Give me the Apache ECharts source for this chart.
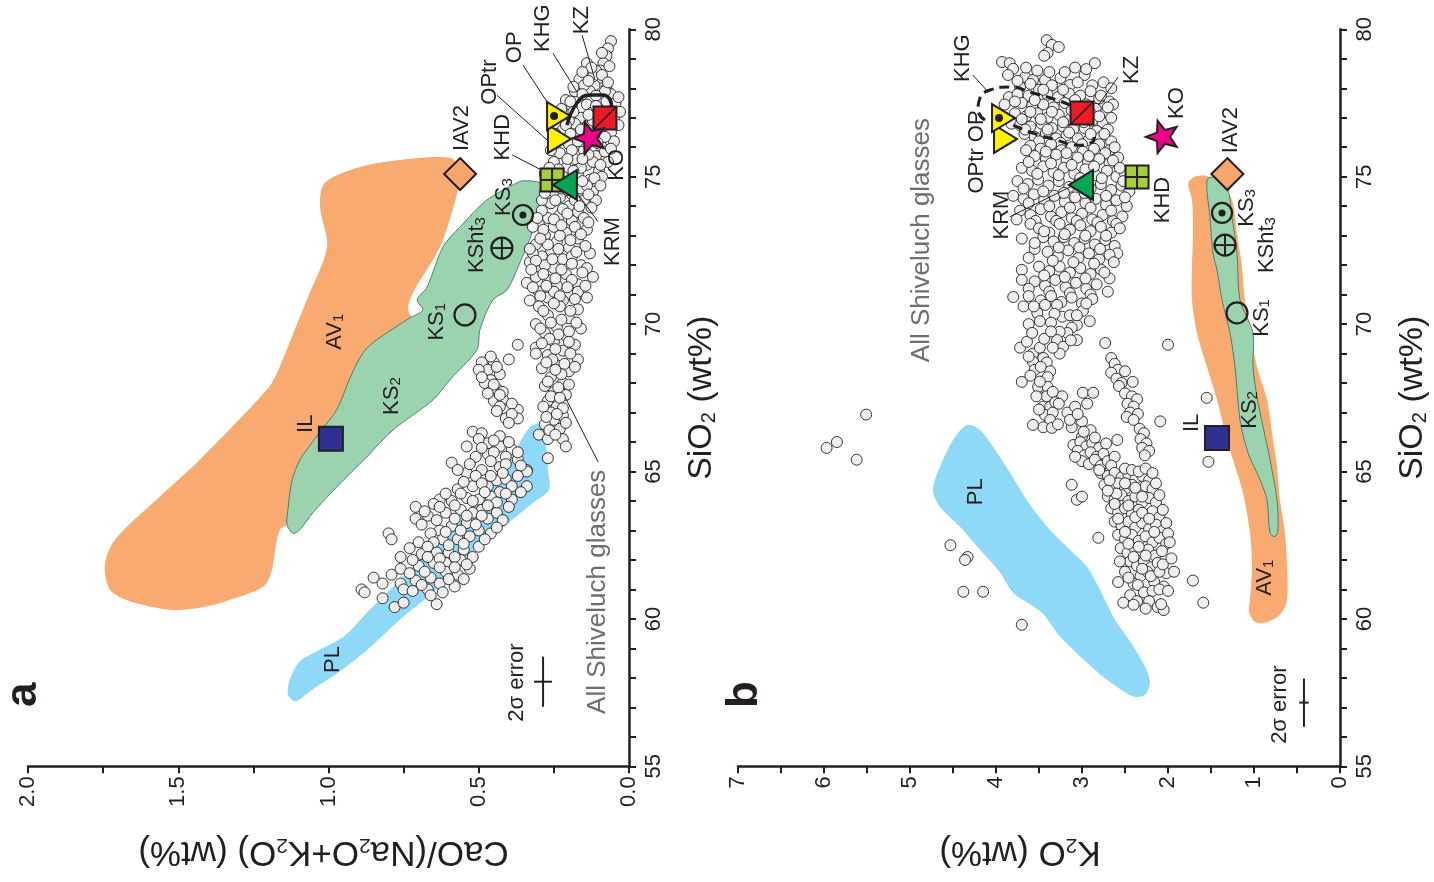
<!DOCTYPE html>
<html><head><meta charset="utf-8">
<script src="https://cdn.jsdelivr.net/npm/echarts@6/dist/echarts.min.js"></script>
<style>html,body{margin:0;padding:0;background:#fff}#c{width:1434px;height:882px}</style>
</head><body><div id="c"></div>
<script>
// ---------------- DATA ----------------
const ratioTickLabels = ['0.0','0.5','1.0','1.5','2.0'];
const k2oTickLabels = ['0','1','2','3','4','5','6','7'];
const silicaTickLabels = ['55','60','65','70','75','80'];

// Panel a fields [CaO/(Na2O+K2O), SiO2]
const av1A = [[0.596,75.64],[0.562,75.20],[0.575,74.31],[0.629,72.62],[0.719,71.06],[0.735,70.48],[0.70,69.8],[0.75,68.5],[0.85,67.0],[0.92,66.0],[1.0,65.0],[1.07,64.0],[1.11,63.3],[1.161,63.03],[1.205,61.23],[1.328,60.65],[1.428,60.38],[1.527,60.31],[1.661,60.6],[1.727,60.99],[1.744,61.84],[1.710,62.69],[1.561,64.15],[1.428,65.40],[1.205,67.77],[1.171,68.35],[1.095,70.25],[1.072,70.82],[1.005,72.62],[1.028,73.98],[1.012,74.79],[0.895,75.33],[0.762,75.57]];
const ks2A = [[0.373,74.79],[0.353,74.86],[0.296,74.79],[0.280,74.48],[0.306,73.77],[0.323,73.09],[0.363,72.08],[0.406,71.16],[0.453,70.82],[0.496,69.81],[0.506,69.13],[0.596,68.11],[0.652,67.43],[0.785,66.41],[0.872,65.50],[0.972,64.48],[1.052,63.60],[1.095,63.03],[1.118,62.90],[1.138,63.20],[1.135,63.71],[1.121,64.72],[1.095,65.40],[1.072,65.74],[1.028,66.35],[0.972,67.10],[0.928,68.18],[0.885,69.03],[0.839,69.47],[0.729,70.21],[0.686,70.48],[0.705,70.82],[0.672,71.26],[0.619,72.62],[0.562,73.30],[0.473,74.21]];
const plA = [[0.329,66.51],[0.286,66.59],[0.276,65.91],[0.270,65.06],[0.266,64.38],[0.319,63.94],[0.429,63.03],[0.562,61.91],[0.629,61.10],[0.762,59.98],[0.862,59.03],[0.962,58.22],[1.062,57.54],[1.111,57.20],[1.135,57.44],[1.128,57.95],[1.095,58.56],[1.028,58.96],[0.945,59.44],[0.862,60.32],[0.762,61.33],[0.629,62.69],[0.496,64.05],[0.396,65.40]];

// Panel b fields [K2O, SiO2]
const av1B = [[1.744,74.89],[1.663,75.02],[1.547,75.02],[1.395,74.82],[1.256,74.21],[1.198,73.09],[1.140,71.94],[1.105,70.82],[0.965,68.55],[0.849,67.43],[0.779,66.07],[0.733,65.16],[0.698,64.04],[0.640,62.92],[0.616,61.77],[0.616,60.65],[0.698,60.14],[0.872,59.87],[0.988,59.90],[1.058,60.24],[1.047,60.65],[1.023,61.77],[1.047,62.92],[1.128,64.28],[1.244,65.40],[1.314,66.07],[1.430,67.43],[1.547,68.55],[1.663,69.70],[1.721,70.82],[1.721,71.94],[1.709,73.09],[1.721,74.21],[1.767,74.72]];
const ks2B = [[1.547,74.89],[1.453,74.99],[1.314,74.65],[1.256,73.63],[1.198,72.41],[1.163,70.82],[1.012,69.70],[1.012,68.55],[0.965,67.53],[0.895,66.52],[0.814,65.40],[0.733,64.04],[0.721,63.02],[0.756,62.79],[0.814,62.92],[0.849,64.04],[0.930,64.72],[1.070,65.63],[1.163,66.75],[1.221,68.55],[1.279,69.70],[1.372,70.82],[1.430,71.84],[1.477,72.41],[1.512,73.63]];
const plB = [[4.186,66.41],[4.035,65.84],[3.837,64.96],[3.605,63.87],[3.372,63.02],[3.105,62.24],[2.942,61.77],[2.791,60.99],[2.616,59.97],[2.430,59.19],[2.267,58.38],[2.209,57.84],[2.267,57.43],[2.384,57.36],[2.547,57.60],[2.814,58.18],[3.256,59.40],[3.465,60.21],[3.802,60.89],[3.953,61.57],[4.186,62.35],[4.419,63.13],[4.651,63.80],[4.733,64.31],[4.709,64.72],[4.616,65.40],[4.500,66.07],[4.337,66.58]];

// All Shiveluch glasses, panel a [ratio, SiO2]
const glassA = [
[0.06,79.6],[0.07,79.35],[0.075,79.1],[0.085,78.85],[0.095,78.6],[0.14,78.85],[0.10,78.35],[0.115,78.1],[0.075,78.0],[0.165,78.3],[0.13,77.9],[0.17,77.7],[0.10,77.6],[0.06,77.8],[0.045,77.5],[0.14,77.45],[0.19,77.35],[0.12,77.2],[0.16,77.0],[0.205,77.1],[0.08,77.3],[0.05,77.0],[0.18,76.8],[0.14,76.7],[0.10,76.6],[0.22,76.6],[0.06,76.5],[0.17,76.4],[0.12,76.2],[0.09,76.0],[0.20,76.1],[0.15,75.9],[0.23,75.8],[0.11,75.7],[0.18,75.6],[0.07,75.5],[0.14,75.4],[0.21,75.3],[0.25,75.5],[0.10,75.2],[0.17,75.1],[0.13,74.9],[0.20,74.8],[0.24,74.95],[0.16,74.6],[0.27,74.7],[0.12,74.5],[0.19,74.4],[0.23,74.3],[0.15,74.2],[0.26,74.1],[0.20,74.0],[0.29,74.2],[0.17,73.8],[0.23,73.7],[0.27,73.6],[0.19,73.5],[0.25,73.3],[0.30,73.4],[0.21,73.1],[0.28,73.0],[0.14,73.2],[0.24,72.8],[0.31,72.7],[0.17,72.9],[0.20,72.6],[0.26,72.5],[0.29,72.3],[0.13,72.4],[0.22,72.2],[0.33,72.1],[0.16,72.0],[0.25,71.9],[0.30,71.8],[0.21,71.7],[0.12,71.6],[0.27,71.5],[0.34,71.4],[0.17,71.35],[0.24,71.3],[0.30,71.1],[0.20,71.0],[0.14,70.9],[0.27,70.9],[0.33,70.8],
[0.09,79.2],[0.11,78.6],[0.12,78.4],[0.08,77.9],[0.15,78.1],[0.18,77.9],[0.21,77.6],[0.03,77.2],[0.07,76.8],[0.12,76.9],[0.20,76.9],[0.15,76.2],[0.24,76.2],[0.05,76.2],[0.08,75.85],[0.19,75.9],[0.26,75.9],[0.12,75.5],[0.16,75.3],[0.22,75.0],[0.09,75.0],[0.28,75.1],[0.14,74.7],[0.25,74.5],[0.18,74.2],[0.11,74.2],[0.22,73.9],[0.29,73.85],[0.15,73.6],[0.32,73.3],[0.18,73.3],[0.23,73.0],[0.27,72.7],[0.19,72.3],[0.32,72.4],[0.28,72.0],[0.14,71.9],[0.19,71.5],[0.31,71.6],[0.25,71.1],[0.17,71.1],[0.22,70.8],
[0.065,78.75],[0.125,78.7],[0.155,78.55],[0.09,78.45],[0.135,78.25],[0.07,78.2],[0.185,78.05],[0.11,77.75],[0.155,77.8],[0.035,77.7],[0.075,77.55],[0.195,77.55],[0.225,77.3],[0.11,77.4],[0.06,77.15],[0.135,77.1],[0.185,77.2],[0.095,76.9],[0.035,76.75],[0.16,76.6],[0.21,76.75],[0.08,76.35],[0.135,76.45],[0.195,76.45],[0.245,76.45],[0.105,76.15],[0.17,76.2],[0.06,75.95],[0.135,75.75],[0.205,75.6],[0.095,75.4],[0.155,75.6],[0.235,75.25],[0.185,75.2],[0.265,75.3],[0.115,74.95],[0.155,74.85],[0.225,74.6],[0.095,74.7],[0.205,74.55],[0.135,74.4],[0.28,74.45],[0.245,74.2],[0.165,74.0],[0.125,73.95],[0.205,73.75],[0.305,73.6],[0.25,73.55],[0.135,73.45],[0.225,73.35],[0.285,73.2],[0.16,73.05],[0.195,72.85],[0.295,72.9],[0.145,72.65],[0.235,72.55],[0.33,72.55],[0.175,72.45],[0.255,72.2],[0.31,72.15],[0.19,72.05],[0.225,71.85],[0.325,71.85],[0.155,71.75],[0.285,71.7],[0.245,71.55],[0.205,71.25],[0.145,71.3],[0.32,71.25],[0.275,71.3],[0.23,70.95],[0.18,70.85],[0.295,70.95],
[0.30,70.6],[0.23,70.6],[0.17,70.5],[0.27,70.3],[0.20,70.2],[0.31,70.0],[0.24,69.9],[0.16,69.85],[0.28,69.7],[0.21,69.6],[0.25,69.4],[0.18,69.3],[0.31,69.2],[0.22,69.1],[0.27,68.95],[0.17,68.8],[0.24,68.6],[0.29,68.5],[0.20,68.4],[0.26,68.2],[0.22,68.0],[0.28,67.9],[0.25,67.7],[0.21,67.6],[0.27,67.4],[0.24,67.2],[0.26,67.0],[0.22,66.9],[0.25,66.75],[0.28,66.6],[0.23,66.45],[0.30,66.25],[0.27,66.1],[0.22,66.1],[0.21,65.85],[0.27,65.45],[0.34,65.05],
[0.25,70.7],[0.195,70.45],[0.285,70.45],[0.225,70.15],[0.175,70.05],[0.26,70.05],[0.2,69.75],[0.295,69.85],[0.235,69.65],[0.265,69.5],[0.2,69.4],[0.245,69.15],[0.29,69.35],[0.195,69.0],[0.255,68.8],[0.215,68.65],[0.275,68.7],[0.225,68.3],[0.18,68.55],[0.245,68.45],[0.27,68.05],[0.235,67.85],[0.2,67.95],[0.26,67.55],[0.23,67.5],[0.285,67.2],[0.22,67.15],[0.24,66.95],[0.275,66.85],[0.21,66.65],[0.265,66.4],[0.245,66.25],
[0.37,69.3],[0.40,68.8],[0.49,68.7],[0.45,68.7],[0.47,68.45],[0.43,68.3],[0.46,68.1],[0.44,67.8],[0.45,67.4],[0.42,67.45],[0.41,67.1],[0.43,67.2],[0.37,67.1],[0.37,66.8],[0.41,66.8],[0.48,68.0],[0.42,67.7],[0.31,69.0],
[0.46,68.9],[0.5,68.45],[0.44,68.55],[0.49,68.2],[0.45,67.95],[0.47,67.65],[0.43,67.6],[0.39,67.3],[0.44,67.05],[0.39,66.95],[0.4,66.65],
[0.52,66.35],[0.49,66.3],[0.47,65.96],[0.43,66.2],[0.43,65.85],[0.39,65.75],[0.41,65.5],[0.47,65.6],[0.51,65.5],[0.59,65.3],[0.37,65.4],[0.34,65.0],[0.43,65.15],[0.49,65.05],[0.54,64.95],[0.44,64.7],[0.41,64.75],[0.39,64.5],[0.47,64.5],[0.52,64.5],[0.57,64.4],[0.43,64.3],[0.46,64.15],[0.39,64.05],[0.34,64.5],[0.50,64.05],[0.54,64.1],[0.59,64.0],[0.63,64.05],[0.65,63.9],[0.71,63.8],[0.49,63.7],[0.44,63.6],[0.52,63.6],[0.56,63.7],[0.61,63.6],[0.67,63.5],[0.71,63.4],[0.47,63.4],[0.54,63.25],[0.59,63.15],[0.63,63.0],[0.66,62.9],[0.50,63.0],[0.46,62.9],[0.53,62.8],[0.57,62.7],[0.62,62.7],[0.65,62.6],[0.70,62.6],[0.50,62.45],[0.55,62.35],[0.60,62.25],[0.64,62.25],[0.69,62.2],[0.52,62.1],[0.56,62.0],[0.61,61.9],[0.65,61.9],[0.70,61.8],[0.76,62.1],[0.76,61.7],[0.80,62.9],[0.79,62.7],[0.82,61.2],[0.89,61.0],[0.71,61.3],[0.66,61.4],[0.63,61.2],[0.67,61.0],[0.61,61.6],[0.76,61.2],[0.75,61.0],[0.88,60.9],[0.82,60.7],[0.78,60.4],[0.75,60.55],[0.64,60.5],[0.66,60.8],[0.57,61.5],[0.53,61.7],[0.58,61.1],
[0.5,66.1],[0.45,66.05],[0.4,66.0],[0.54,65.85],[0.49,65.8],[0.45,65.65],[0.37,65.65],[0.53,65.25],[0.46,65.35],[0.41,65.25],[0.36,65.2],[0.57,65.05],[0.51,64.85],[0.46,64.85],[0.42,64.95],[0.37,64.85],[0.55,64.65],[0.49,64.6],[0.36,64.3],[0.41,64.25],[0.48,64.3],[0.56,64.25],[0.61,64.25],[0.52,64.0],[0.44,63.95],[0.4,63.8],[0.47,63.85],[0.58,63.85],[0.63,63.8],[0.68,63.65],[0.54,63.5],[0.49,63.5],[0.42,63.35],[0.58,63.4],[0.64,63.35],[0.69,63.2],[0.51,63.2],[0.56,63.0],[0.61,62.95],[0.44,63.1],[0.48,62.7],[0.55,62.55],[0.6,62.5],[0.67,62.45],[0.73,62.4],[0.58,62.1],[0.63,62.05],[0.67,62.1],[0.72,62.0],[0.54,61.85],[0.58,61.75],[0.63,61.75],[0.68,61.6],[0.73,61.55],[0.55,61.35],[0.6,61.35],[0.69,61.15],[0.72,60.95],[0.79,61.5],[0.85,61.4],[0.62,60.9]
];

// All Shiveluch glasses, panel b [K2O, SiO2]
const glassB = [
[3.41,79.63],[3.35,79.47],[3.27,79.40],[3.40,79.20],[3.44,79.10],
[3.93,78.89],[3.84,78.85],[3.80,78.66],[3.86,78.45],[3.66,78.38],[3.57,78.28],[3.43,78.28],[3.08,78.70],[2.85,78.85],[2.97,78.45],[3.14,78.11],[3.31,77.87],[3.72,78.05],[3.50,77.95],[3.25,78.35],[2.75,78.20],[2.66,78.00],
[3.65,78.7],[3.52,78.6],[3.38,78.55],[3.2,78.55],[2.95,78.65],[3.75,78.25],[3.35,78.1],[3.05,78.2],[2.88,78.1],[3.6,78.15],
[3.85,77.70],[3.75,77.80],[3.62,77.75],[3.50,77.65],[3.40,77.78],[3.28,77.70],[3.15,77.82],[3.02,77.75],[2.90,77.90],[2.80,77.65],[2.68,77.55],
[3.70,77.50],[3.58,77.40],[3.45,77.45],[3.33,77.35],[3.20,77.50],[3.08,77.40],[2.95,77.45],[2.84,77.30],[2.72,77.20],[2.64,77.45],
[3.78,77.15],[3.65,77.05],[3.52,77.15],[3.40,77.00],[3.27,77.10],[3.14,76.95],[3.00,77.05],[2.88,76.90],[2.76,76.85],[2.66,77.00],
[3.82,76.80],[3.72,76.75],[3.60,76.70],[3.47,76.80],[3.35,76.65],[3.22,76.70],[3.10,76.60],[2.97,76.65],[2.83,76.55],[2.70,76.60],
[3.67,76.45],[3.55,76.35],[3.42,76.48],[3.30,76.30],[3.18,76.40],[3.05,76.30],[2.92,76.25],[2.78,76.35],[2.66,76.20],
[3.9,77.45],[3.78,77.55],[3.55,77.6],[3.45,77.95],[3.22,77.95],[3.08,77.6],[2.97,77.2],[2.78,77.75],[2.7,77.35],[3.6,77.2],[3.35,77.2],[3.12,77.25],[2.9,77.15],[3.48,76.95],[3.22,76.85],[2.98,76.85],[2.8,77.05],[3.7,76.95],[3.66,76.6],[3.4,76.6],[3.15,76.5],[2.9,76.45],[2.74,76.45],[3.5,76.2],[3.25,76.15],[3.0,76.1],[2.8,76.1],[2.68,75.9],
[3.60,76.05],[3.48,75.95],[3.36,76.10],[3.24,75.90],[3.12,76.00],[2.99,75.85],[2.86,75.95],[2.73,75.80],[2.62,76.00],
[3.55,75.70],[3.42,75.60],[3.30,75.75],[3.18,75.55],[3.05,75.65],[2.93,75.50],[2.80,75.60],[2.68,75.45],[2.58,75.65],
[3.70,75.30],[3.58,75.20],[3.45,75.35],[3.33,75.15],[3.21,75.30],[3.09,75.10],[2.96,75.25],[2.84,75.05],[2.71,75.20],[2.60,75.00],[2.50,75.10],
[3.75,74.85],[3.63,74.75],[3.51,74.90],[3.39,74.70],[3.27,74.85],[3.15,74.65],[3.03,74.80],[2.90,74.60],[2.78,74.75],[2.66,74.55],[2.54,74.70],[2.45,74.50],
[3.80,74.35],[3.68,74.25],[3.56,74.40],[3.44,74.20],[3.32,74.35],[3.20,74.15],[3.08,74.30],[2.96,74.10],[2.84,74.25],[2.72,74.05],[2.60,74.20],[2.48,74.00],
[3.72,73.85],[3.60,73.70],[3.48,73.90],[3.36,73.65],[3.24,73.80],[3.12,73.60],[3.00,73.75],[2.88,73.55],[2.76,73.70],[2.64,73.50],[2.53,73.65],
[3.65,75.9],[3.42,75.85],[3.18,75.8],[2.92,75.7],[2.64,75.55],[3.62,75.5],[3.36,75.45],[3.12,75.4],[2.86,75.35],[2.56,75.3],[3.52,75.1],[3.27,75.05],[3.02,74.95],[2.77,74.95],[2.52,74.85],[3.68,74.6],[3.45,74.5],[3.21,74.45],[2.97,74.45],[2.72,74.35],[2.5,74.3],[3.62,74.1],[3.38,74.0],[3.14,73.95],[2.9,73.95],[2.66,73.85],[3.76,73.55],[3.54,73.5],[3.3,73.5],[3.06,73.5],[2.82,73.45],[2.6,73.4],
[3.60,73.40],[3.50,73.25],[3.38,73.10],[3.26,73.40],[3.14,73.20],[3.02,73.35],[2.90,73.15],[2.78,73.30],[2.66,73.10],[2.56,73.25],
[3.70,72.90],[3.45,72.95],[3.33,72.80],[3.21,72.95],[3.09,72.75],[2.97,72.90],[2.85,72.70],[2.73,72.85],[2.62,72.65],[2.59,72.40],
[3.55,72.55],[3.40,72.45],[3.28,72.30],[3.16,72.50],[3.04,72.25],[2.92,72.40],[2.80,72.20],[2.68,72.35],
[3.70,71.84],[3.50,71.95],[3.38,71.80],[3.26,71.95],[3.14,71.75],[3.02,71.90],[2.90,71.70],[2.78,71.85],[2.68,71.55],
[3.55,71.45],[3.43,71.30],[3.31,71.50],[3.19,71.25],[3.07,71.40],[2.95,71.20],[2.83,71.35],[2.70,71.10],
[3.44,73.15],[3.2,73.05],[2.96,73.0],[2.72,73.0],[3.55,72.75],[3.27,72.6],[3.03,72.6],[2.79,72.55],[3.62,72.25],[3.34,72.15],[3.1,72.1],[2.86,72.05],[2.63,72.1],[3.44,71.65],[3.2,71.6],[2.96,71.55],[2.74,71.75],[3.62,71.2],[3.38,71.1],[3.14,71.05],[2.9,71.0],[3.7,71.5],
[3.80,70.92],[3.62,70.95],[3.48,70.80],[3.36,70.95],[3.24,70.75],[3.12,70.90],[3.00,70.70],[2.88,70.85],
[3.52,70.38],[3.49,70.10],[3.43,70.65],[3.29,70.65],[3.23,70.25],[3.14,70.30],[2.99,70.45],[3.06,69.97],[2.91,70.10],[3.12,69.88],[3.17,69.70],[3.26,69.74],[3.06,69.46],[3.29,69.46],[3.22,69.23],[3.26,69.0],[3.72,69.20],[3.64,69.40],[3.57,69.0],[3.49,69.20],[3.45,68.85],[3.57,68.72],[3.55,68.45],[3.41,68.70],[3.37,68.40],[3.40,68.20],[3.45,67.87],[3.51,67.87],[3.40,67.87],[3.41,67.55],[3.45,67.20],[3.37,67.20],[3.43,66.92],[3.34,67.0],[3.37,66.75],[3.45,66.50],[3.35,66.48],[3.23,67.55],[3.17,67.0],[3.08,67.20],[2.99,67.67],[2.87,67.67],[3.0,66.70],[3.12,66.50],[3.0,66.18],[2.59,66.07],[3.70,68.04],[3.57,66.58],[2.73,69.36],[2.0,69.30],[1.55,67.5],[1.53,65.33],
[3.68,70.6],[3.56,70.6],[3.32,70.35],[3.06,70.3],[2.95,70.7],[3.36,70.05],[3.62,70.0],[3.58,69.7],[3.44,69.5],[3.36,69.75],[3.13,69.45],[3.34,69.2],[3.62,68.9],[3.48,68.55],[3.6,68.25],[3.49,68.05],[3.34,67.7],[3.53,67.55],[3.31,67.35],[3.5,67.1],[3.27,67.3],[3.14,66.75],[3.28,66.6],[3.05,66.95],[2.94,67.3],[2.9,66.4],
[2.66,68.85],[2.62,68.65],[2.58,68.45],[2.66,68.35],[2.60,68.15],[2.54,68.0],[2.50,68.4],[2.57,67.9],[2.41,68.04],
[2.50,67.65],[2.42,67.55],[2.36,67.45],[2.47,67.3],[2.40,67.2],[2.44,67.0],[2.35,66.95],[2.48,66.85],[2.40,66.75],[2.09,66.7],
[2.33,66.45],[2.28,66.3],[2.32,66.1],[2.25,65.95],[2.30,65.8],[2.22,65.7],[2.27,65.55],
[3.10,65.9],[3.02,66.0],[2.95,65.85],[2.88,65.95],[2.80,65.8],[3.05,65.7],[2.97,65.55],[2.90,65.65],[2.83,65.5],[2.75,65.6],[3.00,65.35],[2.92,65.25],[2.85,65.4],[2.78,65.2],[2.70,65.35],[2.62,65.5],[2.66,65.2],
[3.12,64.55],[3.06,64.04],[3.0,64.15],[2.81,62.75],
[2.78,64.95],[2.70,64.85],[2.62,64.95],[2.54,64.80],[2.46,64.90],[2.38,64.75],[2.30,64.85],[2.22,64.70],[2.74,64.55],[2.66,64.45],[2.58,64.60],[2.50,64.40],[2.42,64.55],[2.34,64.35],[2.26,64.50],[2.18,64.40],[2.70,64.15],[2.62,64.05],[2.54,64.20],[2.46,64.00],[2.38,64.15],[2.30,63.95],[2.22,64.10],[2.14,63.95],[2.66,63.75],[2.58,63.60],[2.50,63.75],[2.42,63.55],[2.34,63.70],[2.26,63.50],[2.18,63.65],[2.10,63.45],[2.62,63.30],[2.54,63.15],[2.46,63.30],[2.38,63.10],[2.30,63.25],[2.22,63.05],[2.14,63.20],[2.06,63.00],[2.58,62.85],[2.50,62.70],[2.42,62.85],[2.34,62.65],[2.26,62.80],[2.18,62.60],[2.10,62.75],[2.02,62.55],[2.55,62.40],[2.47,62.25],[2.39,62.40],[2.31,62.20],[2.23,62.35],[2.15,62.15],[2.07,62.30],[2.44,61.95],[2.36,61.80],[2.28,61.95],[2.20,61.75],[2.12,61.90],[2.50,61.60],[2.32,61.45],[2.24,61.60],[2.02,61.55],[1.93,61.60],[1.71,61.30],[2.40,61.20],[2.16,61.25],[2.05,61.10],
[2.98,66.35],[2.85,66.15],[2.72,65.95],[3.08,65.5],[2.8,65.05],[2.68,64.7],[2.6,64.25],[2.5,65.1],[2.42,65.05],[2.34,65.0],[2.26,65.1],[2.18,64.95],[2.14,64.6],[2.1,64.2],[2.06,63.7],[2.02,63.25],[2.0,62.9],[2.7,64.35],[2.62,63.9],[2.58,63.4],[2.5,62.95],[2.46,62.55],[2.4,62.1],[2.3,61.7],[2.2,61.45],[2.1,61.6],[2.06,61.85],[2.56,61.95],[2.46,61.4],[2.35,61.15],[2.28,60.9],[2.18,60.95],[2.1,61.0],[2.44,60.8],[2.36,60.6],[2.22,60.6],[2.58,61.25],[2.0,60.95],[1.96,62.05],[1.98,62.6],[2.38,63.45],[2.3,63.6],[2.22,63.4],[2.46,63.85],[2.3,64.15],[2.38,64.45],[2.5,64.6],[2.16,62.95],[2.34,62.45],[2.26,62.15],
[2.52,60.55],[2.40,60.48],[2.12,60.40],[2.05,60.30],[2.08,60.50],[1.59,60.55],[2.26,60.35],[3.70,59.80],
[5.51,66.93],[5.85,66.0],[5.97,65.8],[5.62,65.4],[4.53,62.5],[4.33,62.1],[4.36,62.0],[4.38,60.92],[4.15,60.92]
];

// Reference samples
const markerNames = ['IAV2','IL','KS1','KSht3','KS3','KHD','KRM','OPtr','OP','KZ','KO'];
const markersA = [[0.562,75.09],[0.992,66.11],[0.546,70.31],[0.423,72.58],[0.353,73.70],[0.256,74.89],[0.200,74.72],[0.243,76.28],[0.246,77.06],[0.080,76.99],[0.130,76.31]];
const markersB = [[1.31,75.09],[1.43,66.14],[1.198,70.38],[1.337,72.68],[1.372,73.77],[2.36,74.99],[2.965,74.72],[3.93,76.28],[3.953,76.99],[3.00,77.16],[2.06,76.35]];
const khgA = [[0.206,76.75],[0.173,77.50],[0.130,77.77],[0.087,77.77],[0.063,77.60],[0.058,77.35]];
const khgB1 = [[4.128,76.92],[4.209,77.26],[4.186,77.67],[4.07,77.94],[3.837,78.04],[3.57,77.84],[3.29,77.60],[3.14,77.43]];
const khgB2 = [[3.80,76.75],[3.57,76.48],[3.29,76.24],[3.06,76.07],[2.88,76.18],[2.86,76.35]];
const errA = [[0.286,57.87,0.03,0.85]];
const errB = [[0.419,57.16,0.055,0.82]];

// ---------------- ANNOTATIONS ----------------
const labelsA = [['IAV2',0.556,76.65],['KHD',0.419,76.34],['OPtr',0.463,78.21],['OP',0.379,79.39],['KHG',0.286,80.04],['KZ',0.156,80.31],['KO',0.040,75.40],['KRM',0.053,72.8],['KS{s|3}',0.416,74.31],['KSht{s|3}',0.506,72.68],['KS{s|1}',0.639,70.08],['IL',1.075,66.62],['AV{s|1}',0.978,69.74],['KS{s|2}',0.789,67.56],['PL',0.985,58.62],['2σ error',0.373,57.84]];
const labelsB = [['KHG',4.38,79.02],['OPtr OP',4.22,75.84],['KRM',3.93,73.7],['KZ',2.42,78.62],['KO',1.90,77.5],['IAV2',1.27,76.58],['KHD',2.06,74.21],['KS{s|3}',1.08,73.94],['KSht{s|3}',0.85,72.68],['KS{s|1}',0.91,70.21],['IL',1.72,66.65],['KS{s|2}',1.05,67.09],['AV{s|1}',0.87,61.4],['PL',4.23,64.31],['2σ error',0.70,57.09]];
const grayA = [['All Shiveluch glasses',0.103,60.92]];
const grayB = [['All Shiveluch glasses',4.86,72.85]];
const panelA = [['a',2.013,57.43]];
const panelB = [['b',6.92,57.43]];
const leadersA = [[0.389,75.74,0.273,75.13],[0.439,77.76,0.273,76.25],[0.353,78.79,0.273,77.54],[0.253,79.19,0.173,77.87],[0.156,79.8,0.113,78.28],[0.103,73.47,0.173,74.45],[0.213,67.53,0.103,65.33]];
const leadersB = [[4.27,78.45,4.09,77.87],[3.84,73.64,3.14,74.65],[2.58,78.38,2.81,77.43]];

// ---------------- RENDER ----------------
const INK = '#231f20';
const FONT = "'Liberation Sans', Arial, Helvetica, sans-serif";

function polySeries(ai, pts, fill, stroke, lw, z) {
  return {type:'custom', xAxisIndex:ai, yAxisIndex:ai, data:pts, silent:true, clip:false, z:z, animation:false,
    renderItem:(params, api) => params.dataIndex !== 0 ? null : {
      type:'polygon', shape:{points: pts.map(p => api.coord(p)), smooth:0.3},
      style:{fill:fill, stroke: stroke || 'none', lineWidth: lw || 0}}};
}
function star(x, y, R, r) {
  const p = [];
  for (let i = 0; i < 10; i++) {
    const a = Math.PI + i * Math.PI / 5, rr = i % 2 ? r : R;
    p.push([x + rr * Math.cos(a), y + rr * Math.sin(a)]);
  }
  return p;
}
function markerShapes(name, x, y) {
  const st = f => ({fill:f, stroke:INK, lineWidth:2});
  const ln = (x1,y1,x2,y2,w) => ({type:'line', shape:{x1,y1,x2,y2}, style:{stroke:INK, lineWidth:w||2}});
  switch (name) {
    case 'IAV2': return [{type:'polygon', shape:{points:[[x,y-16],[x+16,y],[x,y+16],[x-16,y]]}, style:st('#F6A66D')}];
    case 'IL': return [{type:'rect', shape:{x:x-12,y:y-12,width:24,height:24}, style:st('#2E3192')}];
    case 'KS1': return [{type:'circle', shape:{cx:x,cy:y,r:10.5}, style:{fill:'none', stroke:INK, lineWidth:2.2}}];
    case 'KSht3': return [{type:'circle', shape:{cx:x,cy:y,r:10.5}, style:{fill:'none', stroke:INK, lineWidth:2.2}}, ln(x-10.5,y,x+10.5,y), ln(x,y-10.5,x,y+10.5)];
    case 'KS3': return [{type:'circle', shape:{cx:x,cy:y,r:10}, style:{fill:'none', stroke:INK, lineWidth:2.2}}, {type:'circle', shape:{cx:x,cy:y,r:3.5}, style:{fill:INK}}];
    case 'KHD': return [{type:'rect', shape:{x:x-11.5,y:y-11.5,width:23,height:23}, style:st('#A6CE39')}, ln(x-11.5,y,x+11.5,y), ln(x,y-11.5,x,y+11.5)];
    case 'KRM': return [{type:'polygon', shape:{points:[[x-16,y],[x+8,y-15],[x+8,y+15]]}, style:st('#00A651')}];
    case 'OPtr': return [{type:'polygon', shape:{points:[[x-8,y-14],[x-8,y+14],[x+15,y]]}, style:st('#FFF200')}];
    case 'OP': return [{type:'polygon', shape:{points:[[x-8,y-14],[x-8,y+14],[x+15,y]]}, style:st('#FFF200')}, {type:'circle', shape:{cx:x-1,cy:y,r:4}, style:{fill:INK}}];
    case 'KZ': return [{type:'rect', shape:{x:x-11.5,y:y-11.5,width:23,height:23}, style:st('#ED1C24')}, ln(x-11.5,y+11.5,x+11.5,y-11.5,1.6)];
    case 'KO': return [{type:'polygon', shape:{points:star(x,y,17,7.2)}, style:st('#EC008C')}];
  }
  return [];
}
function markerSeries(ai, vals) {
  return {type:'custom', xAxisIndex:ai, yAxisIndex:ai, data:vals, silent:true, clip:false, z:6, animation:false,
    renderItem:(params, api) => {
      const c = api.coord([api.value(0), api.value(1)]);
      return {type:'group', children: markerShapes(markerNames[params.dataIndex], c[0], c[1])};
    }};
}
function textSeries(ai, items, size, color, weight) {
  return {type:'custom', xAxisIndex:ai, yAxisIndex:ai, data: items.map(l => [l[1], l[2]]), silent:true, clip:false, z:7, animation:false,
    renderItem:(params, api) => {
      const c = api.coord([api.value(0), api.value(1)]);
      return {type:'text', x:c[0], y:c[1], rotation:Math.PI/2,
        style:{text: items[params.dataIndex][0], x:0, y:0, fill:color, fontSize:size, fontFamily:FONT, fontWeight:weight||'normal',
          align:'center', verticalAlign:'middle',
          rich:{s:{fontSize:Math.round(size*0.68), fontFamily:FONT, fill:color, verticalAlign:'bottom'}}}};
    }};
}
function leaderSeries(ai, segs) {
  return {type:'custom', xAxisIndex:ai, yAxisIndex:ai, data:segs, silent:true, clip:false, z:5, animation:false,
    renderItem:(params, api) => {
      const a = api.coord([api.value(0), api.value(1)]), b = api.coord([api.value(2), api.value(3)]);
      return {type:'line', shape:{x1:a[0],y1:a[1],x2:b[0],y2:b[1]}, style:{stroke:INK, lineWidth:1}};
    }};
}
function errSeries(ai, e) {
  return {type:'custom', xAxisIndex:ai, yAxisIndex:ai, data:e, silent:true, clip:false, z:5, animation:false,
    renderItem:(params, api) => {
      const cx = api.value(0), cy = api.value(1), dx = api.value(2), dy = api.value(3);
      const h1 = api.coord([cx-dx, cy]), h2 = api.coord([cx+dx, cy]), v1 = api.coord([cx, cy-dy]), v2 = api.coord([cx, cy+dy]);
      return {type:'group', children:[
        {type:'line', shape:{x1:h1[0],y1:h1[1],x2:h2[0],y2:h2[1]}, style:{stroke:INK, lineWidth:2}},
        {type:'line', shape:{x1:v1[0],y1:v1[1],x2:v2[0],y2:v2[1]}, style:{stroke:INK, lineWidth:2}}]};
    }};
}
function glassSeries(ai, d) {
  return {type:'scatter', xAxisIndex:ai, yAxisIndex:ai, data:d, symbol:'circle', symbolSize:11, silent:true, z:3, animation:false,
    itemStyle:{color:'#efefef', borderColor:INK, borderWidth:0.9, opacity:1}};
}
function lineSeries(ai, d, dashed) {
  return {type:'line', xAxisIndex:ai, yAxisIndex:ai, data:d, smooth:0.5, symbol:'none', silent:true, z:4, animation:false,
    lineStyle:{color:INK, width: dashed ? 3 : 3.5, type: dashed ? [10,6] : 'solid', cap:'butt'}};
}

const axisCommon = {
  type:'value', splitLine:{show:false},
  axisLine:{show:true, onZero:false, lineStyle:{color:INK, width:2.5}},
  axisTick:{show:true, inside:false, length:7, lineStyle:{color:INK, width:2}},
  minorTick:{show:false}
};
function nameStyle(size, pad) {
  return {fontSize:size, color:INK, fontFamily:FONT, padding:pad || 0,
    rich:{n:{fontSize:size, color:INK, fontFamily:FONT}, s:{fontSize:Math.round(size*0.6), color:INK, fontFamily:FONT, verticalAlign:'bottom'}}};
}
function xAxis(gi, max, interval, labels, name, pad) {
  return Object.assign({}, axisCommon, {gridIndex:gi, min:0, max:max, interval:interval, inverse:true, position:'bottom',
    axisLabel:{rotate:90, margin:10, fontSize:22, color:INK, fontFamily:FONT,
      formatter: v => { const t = (max === 2 ? v.toFixed(1) : String(Math.round(v))); return (Math.abs(v*2 - Math.round(v*2)) < 1e-6 && (max===2 || Math.abs(v-Math.round(v))<1e-6) && labels.includes(t)) ? t : ''; }},
    name:name, nameLocation:'middle', nameRotate:180, nameGap:68, nameTextStyle:nameStyle(35, pad)});
}
function yAxis(gi) {
  return Object.assign({}, axisCommon, {gridIndex:gi, min:55, max:80, interval:1, position:'right',
    axisLabel:{rotate:90, margin:14, fontSize:22, color:INK, fontFamily:FONT,
      formatter: v => silicaTickLabels.includes(String(Math.round(v))) && Math.abs(v-Math.round(v))<1e-6 ? String(Math.round(v)) : ''},
    name:'{n|SiO}{s|2}{n| (wt%)}', nameLocation:'middle', nameRotate:90, nameGap:56, nameTextStyle:nameStyle(34)});
}

const chart = echarts.init(document.getElementById('c'), null, {renderer:'canvas'});
chart.setOption({
  animation:false, backgroundColor:'#ffffff',
  grid:[{left:28, top:29.3, width:601, height:737, outerBoundsMode:'none'}, {left:738, top:29.3, width:602, height:737, outerBoundsMode:'none'}],
  xAxis:[xAxis(0, 2, 0.25, ratioTickLabels, '{n|CaO/(Na}{s|2}{n|O+K}{s|2}{n|O) (wt%)}', [0,0,0,10]), xAxis(1, 7, 0.5, k2oTickLabels, '{n|K}{s|2}{n|O (wt%)}', [0,0,0,38])],
  yAxis:[yAxis(0), yAxis(1)],
  series:[
    polySeries(0, av1A, '#F8AA70', null, 0, 1),
    polySeries(0, ks2A, '#9BD3AF', '#3d7a66', 0.9, 2),
    polySeries(0, plA, '#8ED8F8', null, 0, 1),
    glassSeries(0, glassA),
    lineSeries(0, khgA, false),
    leaderSeries(0, leadersA),
    errSeries(0, errA),
    markerSeries(0, markersA),
    textSeries(0, labelsA, 22, INK),
    textSeries(0, grayA, 26, '#6d6e71'),
    textSeries(0, panelA, 44, INK, 'bold'),

    polySeries(1, av1B, '#F8AA70', null, 0, 1),
    polySeries(1, ks2B, '#9BD3AF', '#3d7a66', 0.9, 2),
    polySeries(1, plB, '#8ED8F8', null, 0, 1),
    glassSeries(1, glassB),
    lineSeries(1, khgB1, true),
    lineSeries(1, khgB2, true),
    leaderSeries(1, leadersB),
    errSeries(1, errB),
    markerSeries(1, markersB),
    textSeries(1, labelsB, 22, INK),
    textSeries(1, grayB, 26, '#6d6e71'),
    textSeries(1, panelB, 44, INK, 'bold')
  ]
});
</script></body></html>
